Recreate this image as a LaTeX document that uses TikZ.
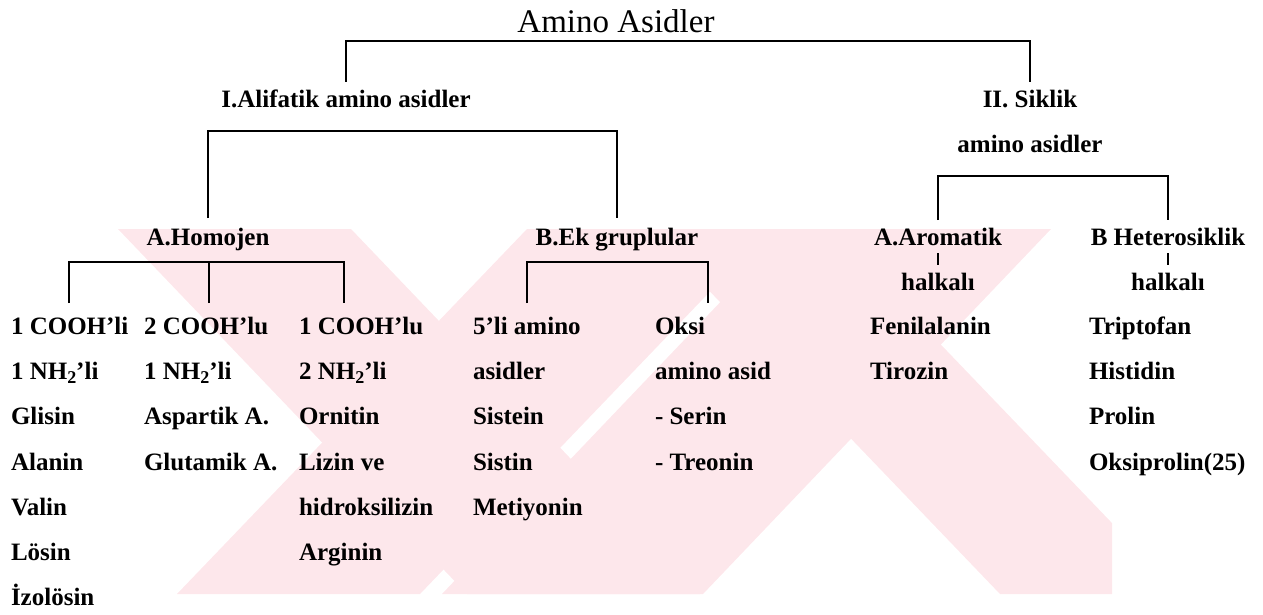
\documentclass[tikz,border=0pt]{standalone}
\usepackage{fontspec}
\setmainfont{Liberation Serif}
\newcommand\subtwo{\raisebox{-0.35ex}{\fontsize{18}{18}\selectfont 2}}
\definecolor{wmpink}{RGB}{253,231,235}
\begin{document}
\begin{tikzpicture}[x=1pt,y=-1pt,
  lbl/.style={inner sep=0pt, outer sep=0pt, font=\fontsize{25}{25}\selectfont\bfseries, text height=17pt, text depth=5pt},
  item/.style={lbl, anchor=base west},
  head/.style={lbl, anchor=base},
  br/.style={line width=2.6pt, line join=miter},
  tk/.style={line width=2pt},
  wm/.style={fill=wmpink, draw=none}]
\useasboundingbox (0,0) rectangle (1263,615);

% faint background watermark
\begin{scope}
\clip (97,229) rectangle (1112,594);
\fill[wm] (118,229) -- (351,229) -- (700,594) -- (467,594) -- cycle;
\fill[wm] (650,229) -- (830,229) -- (1180,594) -- (1000,594) -- cycle;
\fill[wm] (527,229) -- (770,229) -- (420,594) -- (177,594) -- cycle;
\fill[wm] (790,229) -- (1051,229) -- (703,594) -- (442,594) -- cycle;
\end{scope}

% headers
\node[head, font=\fontsize{33}{33}\selectfont] (title) at (616,33) {Amino Asidler};
\node[head] (alif) at (346,108) {I.Alifatik amino asidler};
\node[head] (sik) at (1030,108) {II. Siklik};
\node[head] (sik2) at (1030,153) {amino asidler};
\node[head] (hom) at (208,245) {A.Homojen};
\node[head] (ek) at (617,245) {B.Ek gruplular};
\node[head] (aro) at (938,245) {A.Aromatik};
\node[head] (het) at (1168,245) {B Heterosiklik};
\node[head] (halk1) at (938,290) {halkalı};
\node[head] (halk2) at (1168,290) {halkalı};

% bracket coordinates
\coordinate (topbar) at (689,41);
\coordinate (alifbar) at (410,131);
\coordinate (sikbar) at (1050,176);
\coordinate (hbar) at (200,262);
\coordinate (ebar) at (600,262);
\coordinate (h1) at (69,303);
\coordinate (h2) at (209,303);
\coordinate (h3) at (344,303);
\coordinate (e1) at (527,303);
\coordinate (e2) at (708,303);

% connectors
\draw[br] ([yshift=9pt]alif.north) |- (topbar) -| ([yshift=9pt]sik.north);
\draw[br] ([yshift=10pt]hom.north) |- (alifbar) -| ([yshift=10pt]ek.north);
\draw[br] ([yshift=8pt]aro.north) |- (sikbar) -| ([yshift=8pt]het.north);
\draw[br] (h1) |- (hbar) -| (h3);
\draw[br] (h2) -- (h2 |- hbar);
\draw[br] (e1) |- (ebar) -| (e2);
\draw[tk] ([yshift=-3pt]aro.south) -- ([yshift=8pt]halk1.north);
\draw[tk] ([yshift=-3pt]het.south) -- ([yshift=8pt]halk2.north);

% column 1
\node[item] (a1) at (11,334) {1 COOH’li};
\node[item] (a2) at (11,379.3) {1 NH\subtwo’li};
\node[item] (a3) at (11,424.6) {Glisin};
\node[item] (a4) at (11,470) {Alanin};
\node[item] (a5) at (11,515.2) {Valin};
\node[item] (a6) at (11,560.5) {Lösin};
\node[item] (a7) at (11,605.8) {İzolösin};
% column 2
\node[item] (b1) at (144,334) {2 COOH’lu};
\node[item] (b2) at (144,379.3) {1 NH\subtwo’li};
\node[item] (b3) at (144,424.6) {Aspartik A.};
\node[item] (b4) at (144,470) {Glutamik A.};
% column 3
\node[item] (c1) at (299,334) {1 COOH’lu};
\node[item] (c2) at (299,379.3) {2 NH\subtwo’li};
\node[item] (c3) at (299,424.6) {Ornitin};
\node[item] (c4) at (299,470) {Lizin ve};
\node[item] (c5) at (299,515.2) {hidroksilizin};
\node[item] (c6) at (299,560.5) {Arginin};
% column 4
\node[item] (d1) at (473,334) {5’li amino};
\node[item] (d2) at (473,379.3) {asidler};
\node[item] (d3) at (473,424.6) {Sistein};
\node[item] (d4) at (473,470) {Sistin};
\node[item] (d5) at (473,515.2) {Metiyonin};
% column 5
\node[item] (f1) at (655,334) {Oksi};
\node[item] (f2) at (655,379.3) {amino asid};
\node[item] (f3) at (655,424.6) {- Serin};
\node[item] (f4) at (655,470) {- Treonin};
% column 6
\node[item] (g1) at (870,334) {Fenilalanin};
\node[item] (g2) at (870,379.3) {Tirozin};
% column 7
\node[item] (k1) at (1089,334) {Triptofan};
\node[item] (k2) at (1089,379.3) {Histidin};
\node[item] (k3) at (1089,424.6) {Prolin};
\node[item] (k4) at (1089,470) {Oksiprolin(25)};
\end{tikzpicture}
\end{document}
